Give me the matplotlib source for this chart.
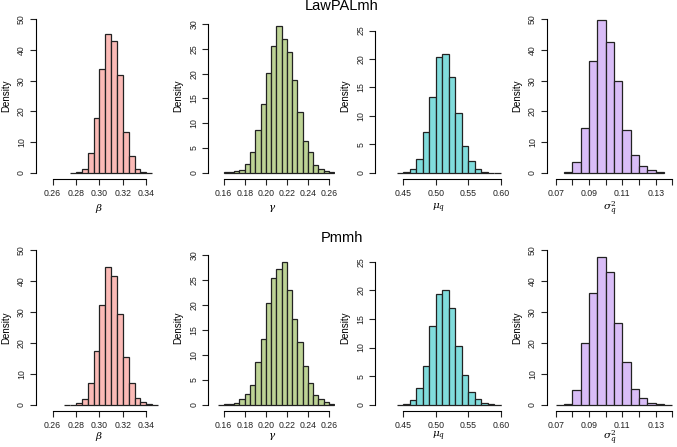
import numpy as np
import matplotlib
matplotlib.use("Agg")
from matplotlib import pyplot as plt

plt.rcParams["font.family"] = ["Liberation Sans", "DejaVu Sans"]
plt.rcParams["mathtext.fontset"] = "dejavuserif"

# histogram densities (left edge of first bin, bin width, densities)
beta_lawpal_start, beta_lawpal_bw = 0.275, 0.005
beta_lawpal = [0.05, 0.2, 1.2, 6.6, 18.0, 33.9, 45.3, 42.8, 31.7, 13.2, 5.6, 1.1, 0.4, 0.05]
gamma_lawpal_start, gamma_lawpal_bw = 0.16, 0.005
gamma_lawpal = [0.1, 0.1, 0.3, 0.6, 1.75, 4.2, 8.6, 13.9, 20.2, 25.6, 29.6, 26.9, 24.3,
                18.7, 12.2, 6.5, 4.2, 1.6, 0.7, 0.3, 0.1]
mu_lawpal_start, mu_lawpal_bw = 0.44, 0.01
mu_lawpal = [0.02, 0.1, 0.64, 2.5, 7.2, 13.3, 20.3, 20.8, 16.8, 10.5, 4.8, 2.0, 0.6, 0.2, 0.05, 0.02]
sig_lawpal_start, sig_lawpal_bw = 0.075, 0.005
sig_lawpal = [0.3, 3.5, 14.75, 36.3, 49.8, 42.5, 29.8, 14.0, 5.75, 2.1, 0.8, 0.2]

beta_pmmh_start, beta_pmmh_bw = 0.27, 0.005
beta_pmmh = [0.02, 0.05, 0.65, 1.8, 7.0, 17.5, 32.2, 44.5, 41.7, 29.5, 15.4, 7.0, 2.2, 0.9, 0.2, 0.05]
gamma_pmmh_start, gamma_pmmh_bw = 0.155, 0.005
gamma_pmmh = [0.05, 0.1, 0.15, 0.4, 1.2, 2.2, 3.9, 8.5, 13.2, 20.4, 25.4, 27.3, 28.6, 23.0,
              17.2, 12.5, 7.8, 4.3, 1.9, 1.2, 0.6, 0.2]
mu_pmmh_start, mu_pmmh_bw = 0.44, 0.01
mu_pmmh = [0.02, 0.1, 0.76, 3.0, 6.7, 13.8, 19.3, 20.0, 16.9, 10.2, 5.2, 2.3, 1.0, 0.4, 0.1, 0.03, 0.01]
sig_pmmh_start, sig_pmmh_bw = 0.07, 0.005
sig_pmmh = [0.02, 0.4, 4.7, 19.9, 36.0, 47.7, 42.9, 26.4, 13.7, 5.2, 2.2, 0.6, 0.2, 0.1]

row_titles = ["LawPALmh", "Pmmh"]
xlabels = [r"$\beta$", r"$\gamma$", r"$\mu_q$", r"$\sigma^2_q$"]
colors = ["#FBBAB6", "#BDD395", "#80DCDC", "#D9BDF7"]

x_ticks = [[0.26, 0.28, 0.30, 0.32, 0.34],
           [0.16, 0.18, 0.20, 0.22, 0.24, 0.26],
           [0.45, 0.50, 0.55, 0.60],
           [0.07, 0.08, 0.09, 0.10, 0.11, 0.12, 0.13, 0.14]]
x_ticklabels = [["0.26", "0.28", "0.30", "0.32", "0.34"],
                ["0.16", "0.18", "0.20", "0.22", "0.24", "0.26"],
                ["0.45", "0.50", "0.55", "0.60"],
                ["0.07", "", "0.09", "", "0.11", "", "0.13", ""]]
y_ticks = [[0, 10, 20, 30, 40, 50], [0, 5, 10, 15, 20, 25, 30],
           [0, 5, 10, 15, 20, 25], [0, 10, 20, 30, 40, 50]]
y_max = [50, 31, 27, 50]
x_lims = [(0.2455, 0.354), (0.1454, 0.266), (0.4064, 0.602), (0.0646, 0.1408)]

rows = [
    [(beta_lawpal_start, beta_lawpal_bw, beta_lawpal),
     (gamma_lawpal_start, gamma_lawpal_bw, gamma_lawpal),
     (mu_lawpal_start, mu_lawpal_bw, mu_lawpal),
     (sig_lawpal_start, sig_lawpal_bw, sig_lawpal)],
    [(beta_pmmh_start, beta_pmmh_bw, beta_pmmh),
     (gamma_pmmh_start, gamma_pmmh_bw, gamma_pmmh),
     (mu_pmmh_start, mu_pmmh_bw, mu_pmmh),
     (sig_pmmh_start, sig_pmmh_bw, sig_pmmh)],
]

W, H = 677, 447
fig = plt.figure(figsize=(W / 100, H / 100), dpi=100)

lefts = [35.7, 208.3, 375, 546.7]   # pixels
panel_w = 127
row_top = [13, 244]
row_h = [166, 167]
title_y = [6.5, 238]
xlab_y = [-0.175, -0.155]

for r, row in enumerate(rows):
    fig.text(342 / W, 1 - title_y[r] / H, row_titles[r], ha="center", va="center", fontsize=10.5)
    for c, (start, bw, dens) in enumerate(row):
        ax = fig.add_axes([lefts[c] / W, 1 - (row_top[r] + row_h[r]) / H, panel_w / W, row_h[r] / H])
        edges = start + bw * np.arange(len(dens) + 1)
        ax.bar(edges[:-1], dens, width=bw, align="edge", color=colors[c],
               edgecolor="#222222", linewidth=0.9)
        ax.set_xlim(*x_lims[c])
        ax.set_ylim(-0.04 * y_max[c], 1.04 * y_max[c])
        for s in ["top", "right"]:
            ax.spines[s].set_visible(False)
        ax.spines["left"].set_bounds(y_ticks[c][0], y_ticks[c][-1])
        ax.spines["bottom"].set_bounds(x_ticks[c][0], x_ticks[c][-1])
        ax.spines["left"].set_linewidth(0.8)
        ax.spines["bottom"].set_linewidth(0.8)
        ax.set_xticks(x_ticks[c])
        ax.set_xticklabels(x_ticklabels[c])
        ax.set_yticks(y_ticks[c])
        ax.set_yticklabels([str(v) for v in y_ticks[c]], rotation=90, va="center")
        ax.tick_params(length=4, width=0.8, labelsize=6.3, pad=3, color="#222222",
                       labelcolor="#222222")
        ax.set_xlabel(xlabels[c], fontsize=7.5, va="center")
        ax.xaxis.set_label_coords(0.5, xlab_y[r])
        ax.set_ylabel("Density", fontsize=7, va="center")
        ax.yaxis.set_label_coords(-0.235, 0.5)

fig.savefig("out.png", dpi=100)
